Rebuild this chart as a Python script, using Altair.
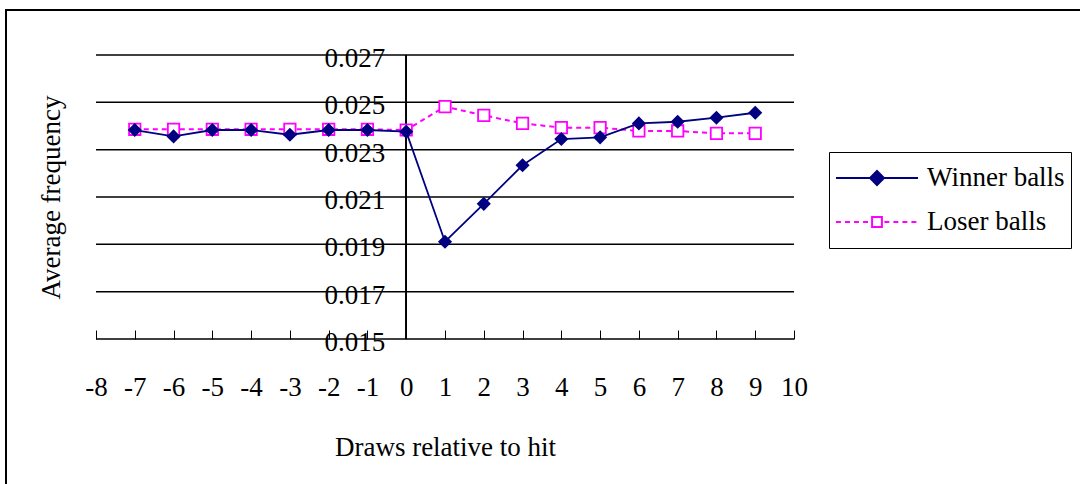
import altair as alt
import pandas as pd

# Draw index relative to the hit
draws = [-7, -6, -5, -4, -3, -2, -1, 0, 1, 2, 3, 4, 5, 6, 7, 8, 9]
winner = [0.02383, 0.02356, 0.02383, 0.02383, 0.02363, 0.02383, 0.02383, 0.02376,
          0.01911, 0.02071, 0.02234, 0.02345, 0.02352, 0.02411, 0.02418, 0.02435, 0.02456]
loser = [0.02386, 0.02386, 0.02386, 0.02386, 0.02386, 0.02386, 0.02386, 0.02383,
         0.02482, 0.02445, 0.02411, 0.02393, 0.02393, 0.02379, 0.02379, 0.02369, 0.02369]
series_names = ["Winner balls", "Loser balls"]

x_ticks = list(range(-8, 11))
y_ticks = [0.015, 0.017, 0.019, 0.021, 0.023, 0.025, 0.027]
y_tick_labels = ["0.015", "0.017", "0.019", "0.021", "0.023", "0.025", "0.027"]

NAVY = "#000080"
MAGENTA = "#FF00FF"
FONT = "Liberation Serif"

df = pd.DataFrame({"draw": draws, "Winner balls": winner, "Loser balls": loser})
long_df = df.melt("draw", var_name="series", value_name="freq")
ticks_df = pd.DataFrame({"v": y_ticks, "t": y_tick_labels})

x_scale = alt.Scale(domain=[-8, 10], nice=False, zero=False)
y_scale = alt.Scale(domain=[0.015, 0.027], nice=False, zero=False)

x_axis = alt.Axis(values=x_ticks, labelExpr="toString(datum.value)",
                  title="Draws relative to hit", labelOverlap=False,
                  labelSeparation=0,
                  grid=False, domain=False, offset=-9, tickSize=9,
                  tickColor="black", tickWidth=1, labelPadding=35,
                  labelFont=FONT, labelFontSize=27, labelColor="black",
                  titleFont=FONT, titleFontSize=27, titleFontWeight="normal",
                  titleColor="black", titlePadding=34, labelFlush=False)
# Left axis carries only the title; the value labels sit beside the zero line
y_axis = alt.Axis(title="Average frequency", labels=False, ticks=False,
                  domain=False, grid=False, titleFont=FONT, titleFontSize=27,
                  titleFontWeight="normal", titleColor="black", titlePadding=31)

X = alt.X("draw:Q", scale=x_scale, axis=x_axis, title="Draws relative to hit")
Y = alt.Y("freq:Q", scale=y_scale, axis=y_axis, title="Average frequency")

# Horizontal gridlines, the lowest one doubling as the category axis line
grid = alt.Chart(ticks_df).mark_rule(color="black", strokeWidth=1.5).encode(
    y=alt.Y("v:Q", scale=y_scale, axis=y_axis, title="Average frequency"),
    x=alt.datum(-8, scale=x_scale, axis=x_axis, title="Draws relative to hit"),
    x2=alt.datum(10),
)

# Value axis crossing at draw 0
zero_axis = alt.Chart(ticks_df).mark_rule(color="black", strokeWidth=1.2).encode(
    x=alt.datum(0, axis=x_axis, title="Draws relative to hit"),
    y=alt.datum(0.015, axis=y_axis, title="Average frequency"),
    y2=alt.datum(0.027),
)

y_labels = alt.Chart(ticks_df).mark_text(
    align="right", baseline="middle", dx=-21, dy=4,
    font=FONT, fontSize=27, color="black"
).encode(x=alt.datum(0, axis=x_axis, title="Draws relative to hit"),
         y=alt.Y("v:Q", axis=y_axis, title="Average frequency"),
         text="t:N")

base = alt.Chart(long_df)

loser_line = base.transform_filter(alt.datum.series == "Loser balls").mark_line(
    color=MAGENTA, strokeWidth=2, strokeDash=[5, 4]
).encode(x=X, y=Y)
loser_pts = base.transform_filter(alt.datum.series == "Loser balls").mark_point(
    shape="square", filled=True, fill="white", stroke=MAGENTA, strokeWidth=1.8,
    size=130, opacity=1
).encode(x=X, y=Y)
winner_line = base.transform_filter(alt.datum.series == "Winner balls").mark_line(
    color=NAVY, strokeWidth=1.8
).encode(x=X, y=Y)
winner_pts = base.transform_filter(alt.datum.series == "Winner balls").mark_point(
    shape="diamond", filled=True, color=NAVY, size=200, opacity=1
).encode(x=X, y=Y)

# Legend symbols: line segment with marker, as custom symbol paths
d = 0.17
winner_symbol = f"M-1,0L1,0M0,{-d}L{d},0L0,{d}L{-d},0Z"
s = 0.12
dash, gap = 0.12, 0.1
parts = []
pos = -1.0
while pos < -s - 0.01:
    end = min(pos + dash, -s)
    parts.append(f"M{pos:.3f},0L{end:.3f},0")
    pos = end + gap
pos = s + gap * 0.6
while pos < 1.0 - 0.01:
    end = min(pos + dash, 1.0)
    parts.append(f"M{pos:.3f},0L{end:.3f},0")
    pos = end + gap
parts.append(f"M{-s},{-s}L{s},{-s}L{s},{s}L{-s},{s}Z")
loser_symbol = "".join(parts)

leg = alt.Legend(title=None, orient="none", legendX=733, legendY=97,
                 symbolSize=6724, symbolStrokeWidth=2, clipHeight=40,
                 rowPadding=4, labelOffset=8, padding=6,
                 labelFont=FONT, labelFontSize=27, labelColor="black",
                 strokeColor="black", fillColor="white")

legend_layer = base.transform_filter("false").mark_point(opacity=1, strokeWidth=2).encode(
    shape=alt.Shape("series:N", scale=alt.Scale(domain=series_names,
                                                range=[winner_symbol, loser_symbol]), legend=leg),
    fill=alt.Fill("series:N", scale=alt.Scale(domain=series_names,
                                              range=[NAVY, "#FFFFFF"]), legend=leg),
    stroke=alt.Stroke("series:N", scale=alt.Scale(domain=series_names,
                                                  range=[NAVY, MAGENTA]), legend=leg),
)

# Outer chart frame
frame = alt.Chart(alt.Data(values=[{}])).mark_rect(
    fill=None, stroke="black", strokeWidth=2
).encode(x=alt.value(-90), x2=alt.value(1100), y=alt.value(-45), y2=alt.value(600))

chart = alt.layer(
    frame, grid, zero_axis, y_labels,
    loser_line, loser_pts, winner_line, winner_pts, legend_layer
).properties(
    width=698, height=284,
    autosize=alt.AutoSizeParams(type="none"),
    padding={"left": 96, "top": 55, "right": 286, "bottom": 145},
    background="white",
).configure_view(stroke=None).configure_axisX(labelOverlap=False, labelSeparation=0)

chart.save("out.html", embed_options={"renderer": "svg", "actions": False})
